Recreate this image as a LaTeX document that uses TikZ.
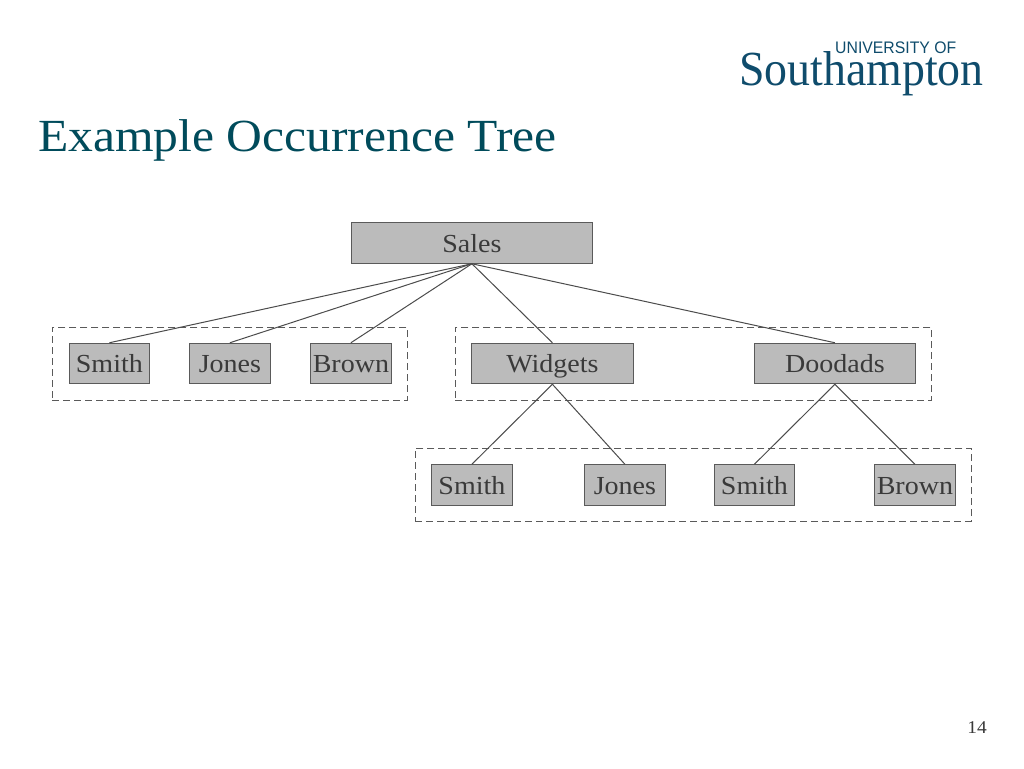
\documentclass[tikz,border=0pt]{standalone}
\usepackage{fontspec}
\setmainfont{Liberation Serif}
\newfontfamily\geo[FakeStretch=1.078,Numbers=OldStyle]{Liberation Serif}
\newfontfamily\logoS[FakeStretch=0.935]{Liberation Serif}
\newfontfamily\logoU[FakeStretch=0.945]{Liberation Sans}
\definecolor{titlecol}{HTML}{004B5B}
\definecolor{logocol}{HTML}{0F4C6C}
\definecolor{boxfill}{HTML}{BBBBBB}
\definecolor{boxline}{HTML}{5A5A5A}
\definecolor{txt}{HTML}{3A3A3A}
\tikzset{
  x=1pt,y=-1pt,
  treebox/.style={draw=boxline,fill=boxfill,line width=1pt,inner sep=0pt,minimum height=40.5pt,text height=18pt,text depth=0pt,text=txt,font=\geo\fontsize{26}{28}\selectfont,xshift=0.4pt},
  groupbox/.style={draw=boxline,dash pattern=on 7pt off 4pt,line width=1.1pt,inner sep=0pt,xshift=0.4pt,yshift=-0.2pt},
  link/.style={draw=boxline!85!black,line width=1pt},
}
\begin{document}
\begin{tikzpicture}
\useasboundingbox (0,0) rectangle (1024,768);
\fill[white] (0,0) rectangle (1024,768);
% dashed groups
\node[groupbox,minimum width=355pt,minimum height=73pt] (g1) at (229.5,363.5) {};
\node[groupbox,minimum width=476pt,minimum height=73pt] (g2) at (693,363.5) {};
\node[groupbox,minimum width=556pt,minimum height=73pt] (g3) at (693,484.5) {};
% boxes
\node[treebox,minimum width=241pt] (sales) at (471.5,243) {Sales};
\node[treebox,minimum width=80pt] (smith1) at (109,363.5) {Smith};
\node[treebox,minimum width=81pt] (jones1) at (229.5,363.5) {Jones};
\node[treebox,minimum width=81pt] (brown1) at (350.5,363.5) {Brown};
\node[treebox,minimum width=162pt] (widgets) at (552,363.5) {Widgets};
\node[treebox,minimum width=161pt] (doodads) at (834.5,363.5) {Doodads};
\node[treebox,minimum width=81pt] (smith2) at (471.5,485) {Smith};
\node[treebox,minimum width=81pt] (jones2) at (624.5,485) {Jones};
\node[treebox,minimum width=80pt] (smith3) at (754,485) {Smith};
\node[treebox,minimum width=81pt] (brown2) at (914.5,485) {Brown};
% links
\foreach \c in {smith1,jones1,brown1,widgets,doodads}
  \draw[link] (sales.south) -- (\c.north);
\foreach \c in {smith2,jones2}
  \draw[link] (widgets.south) -- (\c.north);
\foreach \c in {smith3,brown2}
  \draw[link] (doodads.south) -- (\c.north);
% title
\node[anchor=base west,inner sep=0pt,text=titlecol,font=\geo\fontsize{46}{50}\selectfont] (title) at (38,151) {Example Occurrence Tree};
% logo
\node[anchor=base west,inner sep=0pt,text=logocol,font=\logoU\fontsize{16.7}{18}\selectfont] (logoa) at (835,53.5) {UNIVERSITY OF};
\node[anchor=base west,inner sep=0pt,text=logocol,font=\logoS\fontsize{49}{50}\selectfont] (logob) at (739,85) {Southampton};
% page number
\node[anchor=base east,inner sep=0pt,text=txt,font=\geo\fontsize{18}{20}\selectfont] (page) at (987,733) {14};
\end{tikzpicture}
\end{document}
